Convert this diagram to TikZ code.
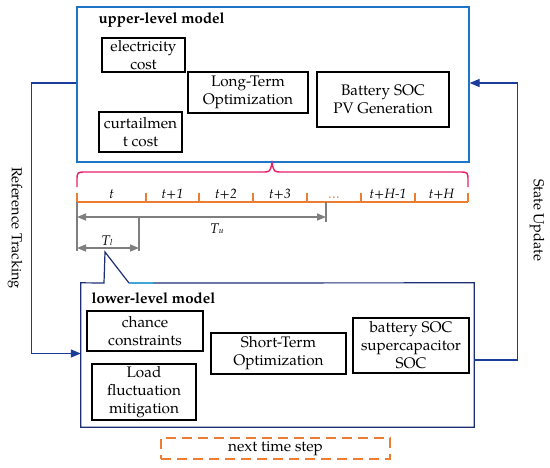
\documentclass[tikz,border=0pt]{standalone}
\usepackage{fontspec}
\setmainfont{texgyrepagella}[Extension=.otf, UprightFont=*-regular, BoldFont=*-bold, ItalicFont=*-italic, BoldItalicFont=*-bolditalic]
\usetikzlibrary{arrows.meta}
\definecolor{upblue}{HTML}{1E74C6}
\definecolor{navy}{HTML}{1C2E74}
\definecolor{arrblue}{HTML}{1B3C9A}
\definecolor{lightb}{HTML}{3FA7D6}
\definecolor{brace}{HTML}{E8206A}
\definecolor{orng}{HTML}{ED7D31}
\definecolor{gry}{HTML}{7F7F7F}
\tikzset{
  box/.style={draw=black, line width=1.2pt, align=center, inner sep=1pt,
    font=\fontsize{15.3}{18}\selectfont},
  title/.style={font=\fontsize{15}{17}\selectfont\bfseries, anchor=west},
  tlab/.style={font=\fontsize{13.5}{15}\selectfont\itshape, anchor=base},
  fb/.style={draw=arrblue, line width=1.2pt, -{Triangle[length=10pt,width=8pt]}},
  side/.style={font=\fontsize{14.5}{17}\selectfont, rotate=-90},
  dim/.style={draw=gry, line width=1.5pt},
  dimarr/.style={dim, {Triangle[length=9pt,width=7pt]}-{Triangle[length=9pt,width=7pt]}},
}
\begin{document}
\begin{tikzpicture}[x=1pt,y=-1pt]
\useasboundingbox (0,0) rectangle (550,467);
% upper model
\node[draw=upblue, line width=1.2pt, minimum width=392pt, minimum height=155pt, inner sep=0] (upper) at (273,84.5) {};
\node[title] (uptitle) at (95,20) {upper-level model};
\node[box, minimum width=83pt, minimum height=34pt] (elec) at (143.5,55) {electricity\\cost};
\node[box, minimum width=83pt, minimum height=40pt] (curt) at (140.5,132) {curtailmen\\t cost};
\node[box, minimum width=120pt, minimum height=41pt] (long) at (248,92.5) {Long-Term\\Optimization};
\node[box, minimum width=132pt, minimum height=55pt] (batt) at (383,99.5) {Battery SOC\\PV Generation};
% brace
\draw[brace, line width=1.4pt] (77,187) -- (77,181) .. controls (77,172) .. (86,172) -- (262,172)
  .. controls (270,172) .. (272,163) .. controls (274,172) .. (282,172) -- (459,172)
  .. controls (468,172) .. (468,181) -- (468,187);
% timeline
\coordinate (tl0) at (77,202);
\coordinate (tl1) at (468,202);
\draw[orng, line width=1.3pt] (tl0) -- (tl1);
\foreach \x in {77,146,199,253,307,361,415,468}{
  \draw[orng, line width=1.3pt] (\x,202) -- (\x,193);
}
\node[tlab] (l0) at (111.5,198) {t};
\node[tlab] (l1) at (172.5,198) {t+1};
\node[tlab] (l2) at (226,198) {t+2};
\node[tlab] (l3) at (280,198) {t+3};
\node[tlab, text=orng!80!gray] (l4) at (334,198) {\textup{\dots}};
\node[tlab] (l5) at (388,198) {t+H-1};
\node[tlab] (l6) at (441.5,198) {t+H};
% dimension lines
\coordinate (d0) at (77,202);
\coordinate (d0b) at (77,251);
\coordinate (du) at (326,202);
\coordinate (dub) at (326,222);
\coordinate (dl) at (139,217);
\coordinate (dlb) at (139,251);
\draw[dim] (d0) -- (d0b);
\draw[dim] (du) -- (dub);
\draw[dim] (dl) -- (dlb);
\draw[dimarr] (77,217) -- (326,217);
\draw[dimarr] (77,248) -- (139,248);
\node[font=\fontsize{14}{15}\selectfont] (Tu) at (217,229) {\textit{T}\kern-0.5pt{\fontsize{8.5}{9}\selectfont\textit{u}}};
\node[font=\fontsize{14}{15}\selectfont] (Tl) at (107,241) {\textit{T}\kern-0.5pt{\fontsize{8.5}{9}\selectfont\textit{l}}};
% lower model
\node[minimum width=393pt, minimum height=144pt, inner sep=0] (lower) at (277.5,355) {};
\draw[navy, line width=1.2pt] (129,283) -- (105,252) -- (104,283) -- (lower.north west)
   -- (lower.south west) -- (lower.south east) -- (lower.north east) -- (153,283);
\draw[lightb, line width=1.2pt] (129,283) -- (153,283);
\node[title] (lowtitle) at (88,298) {lower-level model};
\node[box, minimum width=116pt, minimum height=40pt] (chance) at (145,331) {chance\\constraints};
\node[box, minimum width=104pt, minimum height=56pt] (load) at (144,392) {Load\\fluctuation\\mitigation};
\node[box, minimum width=135pt, minimum height=41pt] (short) at (278.5,353.5) {Short-Term\\Optimization};
\node[box, minimum width=116pt, minimum height=55pt] (bsoc) at (411,345.5) {battery SOC\\supercapacitor\\SOC};
\node[box, draw=orng, dash pattern=on 10pt off 6pt, minimum width=229pt, minimum height=21pt] (next) at (275.5,448.5) {next time step};
% feedback arrows
\draw[fb] ([yshift=1.5pt]upper.west) -- ++(-45,0) coordinate (rt) |- ([yshift=1.5pt]lower.west);
\draw[fb] ([yshift=-5pt]lower.east) -- ++(43,0) coordinate (su) |- ([yshift=1.5pt]upper.east);
\node[side] (reft) at (15,228) {Reference Tracking};
\node[side] (stup) at (537,220) {State Update};
\end{tikzpicture}
\end{document}
